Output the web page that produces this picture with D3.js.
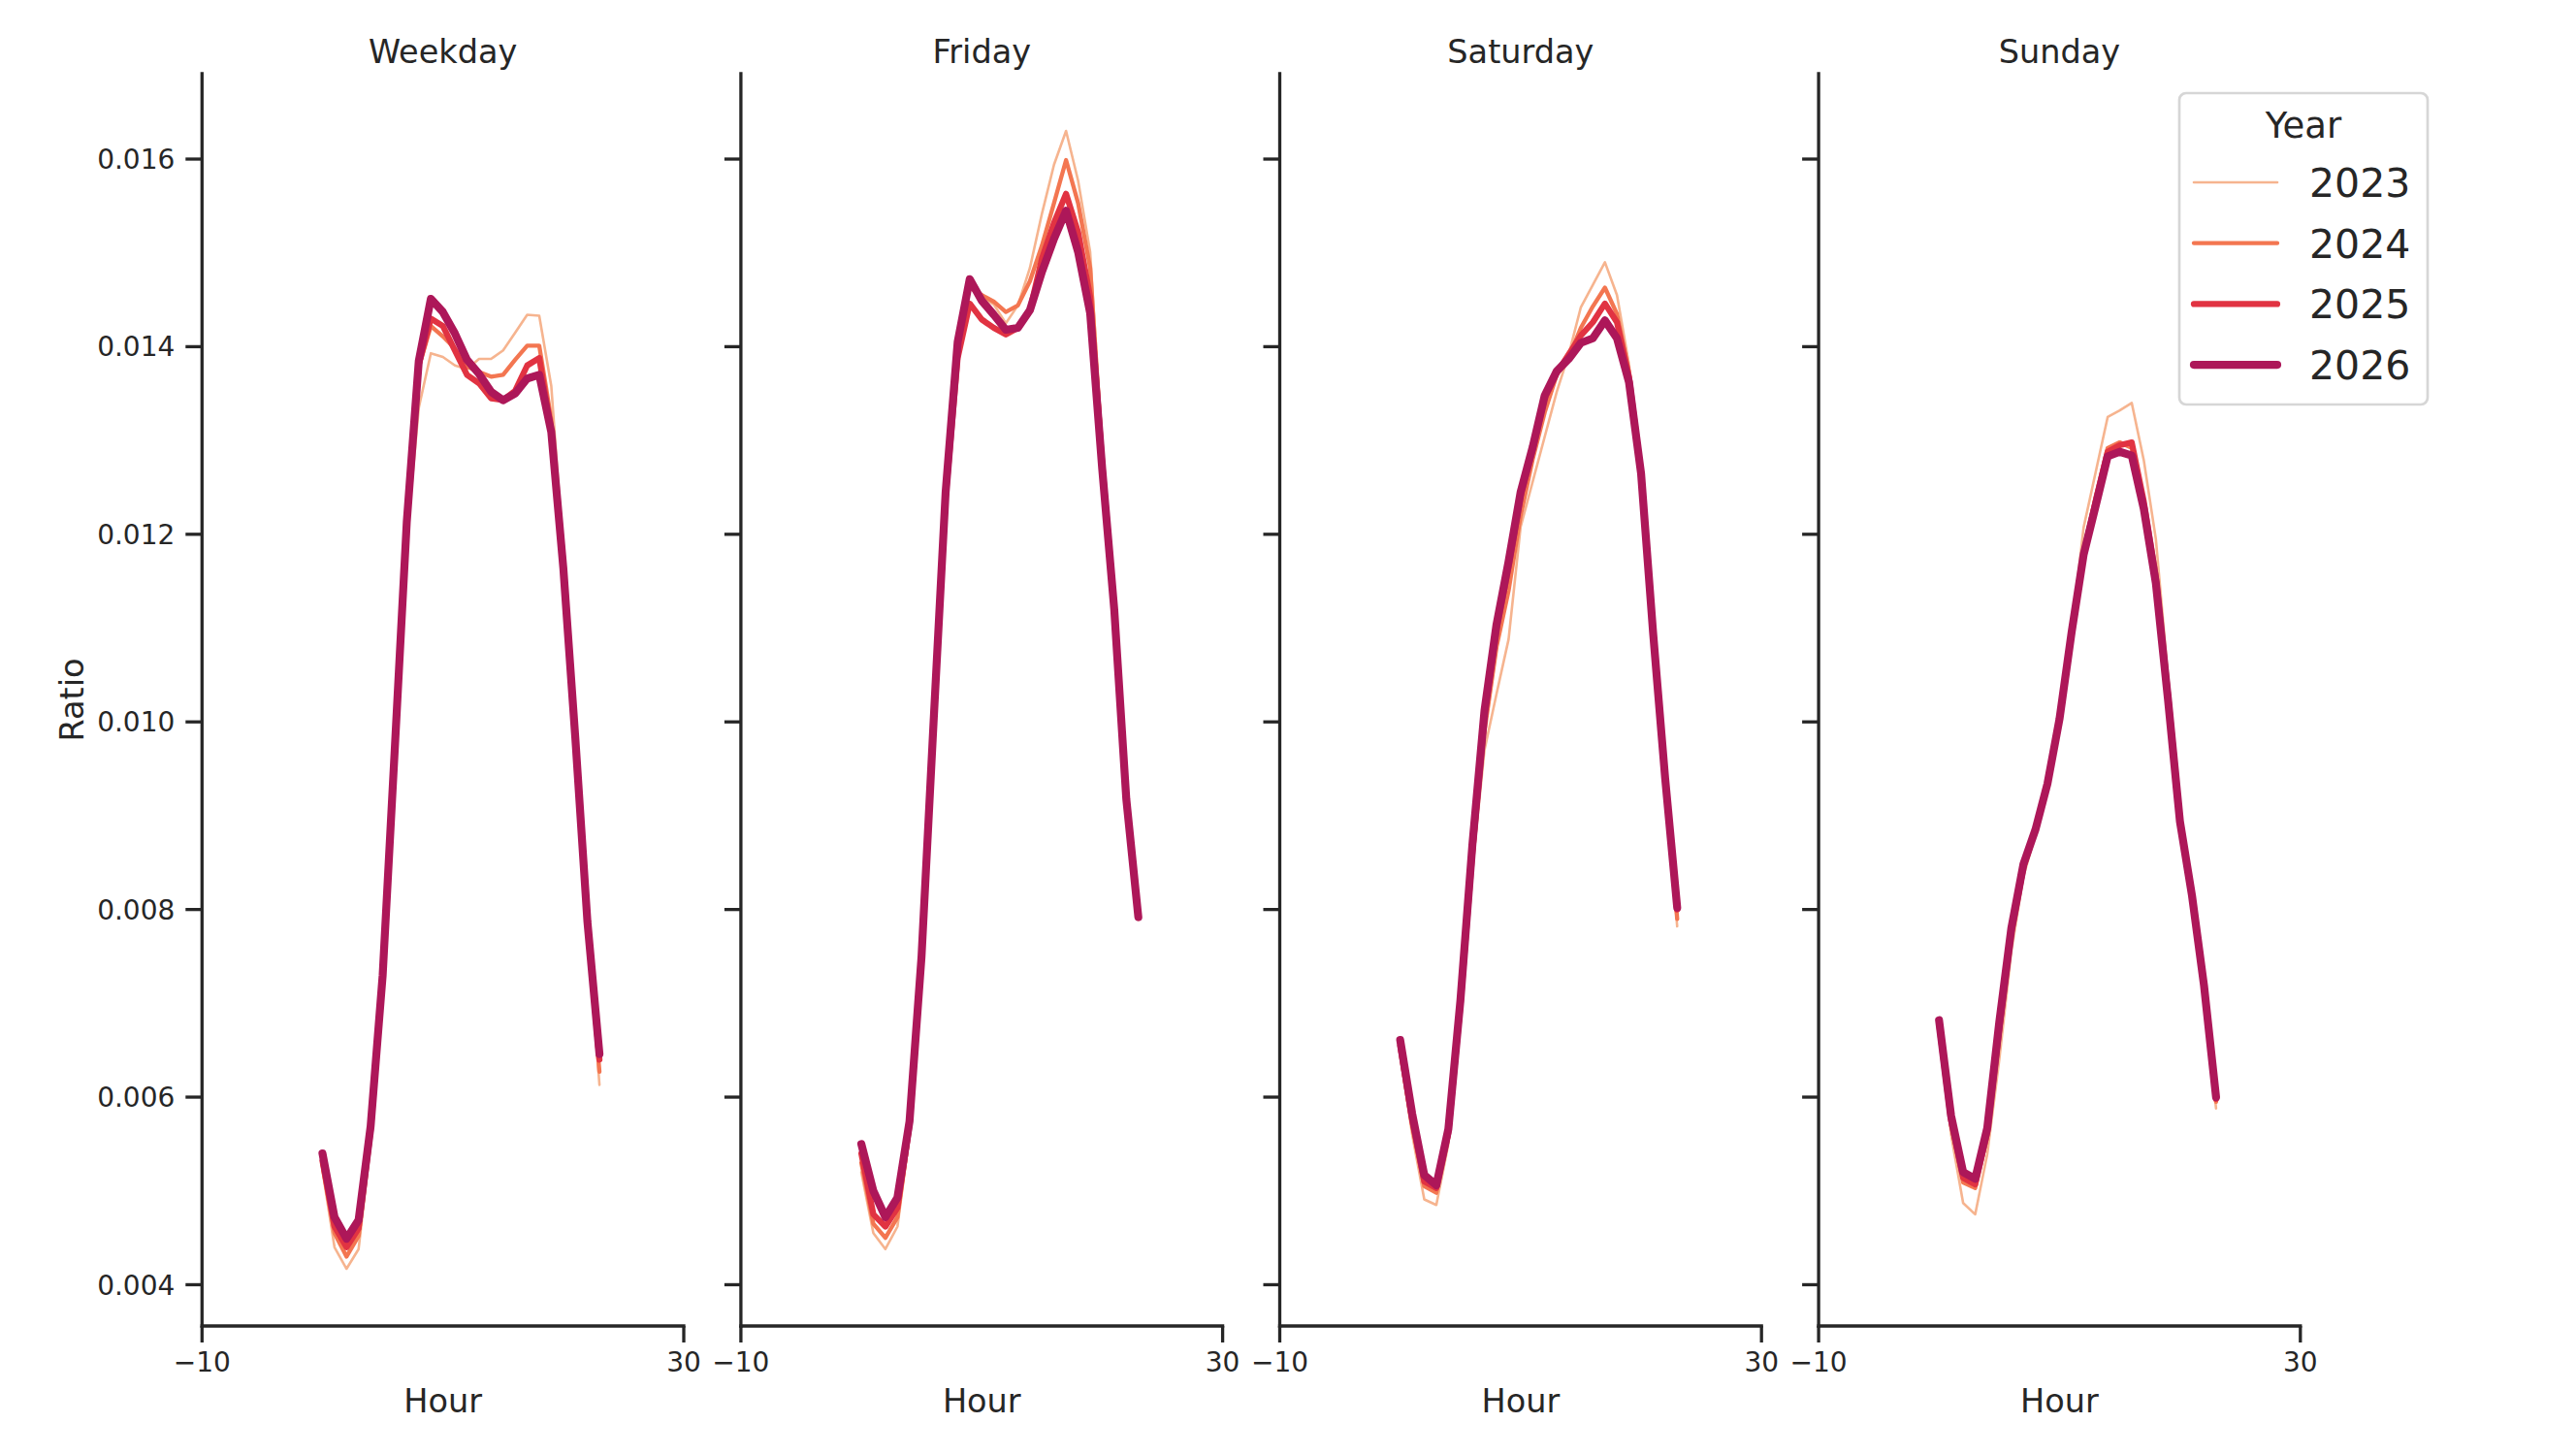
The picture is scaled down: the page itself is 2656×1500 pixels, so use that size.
<!DOCTYPE html>
<html>
<head>
<meta charset="utf-8">
<script src="https://cdn.jsdelivr.net/npm/d3@7"></script>
<style>
  body { margin: 0; background: #fff; }
  text { font-family: "DejaVu Sans", sans-serif; fill: #262626; }
</style>
</head>
<body>
<svg id="chart"></svg>
<script>
// hourly ratio per day type, one array per year (hours 0..23)
const hours = d3.range(0, 24);
const years = ["2023", "2024", "2025", "2026"];
const dayTypes = ["Weekday", "Friday", "Saturday", "Sunday"];
const yTicks = [0.004, 0.006, 0.008, 0.01, 0.012, 0.014, 0.016];
const xTicks = [-10, 30];

const weekday2023 = [0.00522, 0.00440, 0.00417, 0.00438, 0.00550, 0.00720, 0.00955, 0.01195, 0.01335, 0.01393, 0.01389, 0.01380, 0.01376, 0.01387, 0.01387, 0.01396, 0.01415, 0.01434, 0.01433, 0.01358, 0.01180, 0.00988, 0.00785, 0.00613];
const weekday2024 = [0.00528, 0.00455, 0.00430, 0.00452, 0.00560, 0.00725, 0.00962, 0.01205, 0.01378, 0.01422, 0.01411, 0.01398, 0.01379, 0.01373, 0.01368, 0.01370, 0.01386, 0.01401, 0.01401, 0.01322, 0.01172, 0.00985, 0.00785, 0.00627];
const weekday2025 = [0.00532, 0.00462, 0.00440, 0.00460, 0.00565, 0.00728, 0.00967, 0.01212, 0.01381, 0.01430, 0.01422, 0.01396, 0.01370, 0.01361, 0.01345, 0.01343, 0.01353, 0.01380, 0.01388, 0.01310, 0.01168, 0.00984, 0.00788, 0.00640];
const weekday2026 = [0.00540, 0.00472, 0.00449, 0.00469, 0.00569, 0.00730, 0.00970, 0.01213, 0.01385, 0.01451, 0.01437, 0.01414, 0.01386, 0.01371, 0.01352, 0.01343, 0.01350, 0.01366, 0.01370, 0.01309, 0.01164, 0.00982, 0.00787, 0.00646];

const friday2023 = [0.00520, 0.00455, 0.00438, 0.00462, 0.00560, 0.00740, 0.00990, 0.01235, 0.01398, 0.01462, 0.01453, 0.01445, 0.01425, 0.01444, 0.01484, 0.01542, 0.01594, 0.01630, 0.01577, 0.01501, 0.01295, 0.01128, 0.00920, 0.00790];
const friday2024 = [0.00530, 0.00465, 0.00450, 0.00472, 0.00565, 0.00745, 0.00995, 0.01240, 0.01400, 0.01465, 0.01455, 0.01448, 0.01437, 0.01444, 0.01470, 0.01508, 0.01553, 0.01599, 0.01553, 0.01484, 0.01285, 0.01125, 0.00918, 0.00790];
const friday2025 = [0.00540, 0.00475, 0.00462, 0.00482, 0.00570, 0.00748, 0.00998, 0.01240, 0.01388, 0.01446, 0.01429, 0.01420, 0.01413, 0.01420, 0.01439, 0.01494, 0.01532, 0.01563, 0.01522, 0.01453, 0.01275, 0.01122, 0.00918, 0.00792];
const friday2026 = [0.00550, 0.00500, 0.00472, 0.00493, 0.00574, 0.00750, 0.01000, 0.01245, 0.01405, 0.01472, 0.01449, 0.01434, 0.01418, 0.01420, 0.01439, 0.01480, 0.01515, 0.01545, 0.01501, 0.01436, 0.01270, 0.01120, 0.00918, 0.00792];

const saturday2023 = [0.00645, 0.00560, 0.00491, 0.00485, 0.00550, 0.00680, 0.00845, 0.00970, 0.01030, 0.01088, 0.01208, 0.01256, 0.01304, 0.01352, 0.01392, 0.01442, 0.01466, 0.01490, 0.01455, 0.01381, 0.01275, 0.01100, 0.00940, 0.00782];
const saturday2024 = [0.00650, 0.00570, 0.00505, 0.00498, 0.00558, 0.00690, 0.00855, 0.00990, 0.01080, 0.01140, 0.01220, 0.01280, 0.01330, 0.01370, 0.01389, 0.01420, 0.01443, 0.01463, 0.01435, 0.01372, 0.01268, 0.01097, 0.00940, 0.00790];
const saturday2025 = [0.00655, 0.00575, 0.00510, 0.00503, 0.00562, 0.00698, 0.00862, 0.01005, 0.01098, 0.01165, 0.01240, 0.01290, 0.01345, 0.01372, 0.01392, 0.01412, 0.01426, 0.01446, 0.01426, 0.01368, 0.01265, 0.01095, 0.00940, 0.00800];
const saturday2026 = [0.00661, 0.00582, 0.00517, 0.00506, 0.00566, 0.00703, 0.00870, 0.01012, 0.01104, 0.01171, 0.01245, 0.01293, 0.01348, 0.01374, 0.01387, 0.01404, 0.01409, 0.01428, 0.01409, 0.01362, 0.01265, 0.01095, 0.00940, 0.00802];

const sunday2023 = [0.00670, 0.00560, 0.00487, 0.00475, 0.00539, 0.00640, 0.00755, 0.00835, 0.00880, 0.00930, 0.01000, 0.01095, 0.01207, 0.01266, 0.01325, 0.01332, 0.01340, 0.01279, 0.01195, 0.01050, 0.00905, 0.00818, 0.00715, 0.00588];
const sunday2024 = [0.00675, 0.00570, 0.00509, 0.00503, 0.00558, 0.00665, 0.00770, 0.00842, 0.00883, 0.00932, 0.01002, 0.01095, 0.01182, 0.01240, 0.01292, 0.01298, 0.01292, 0.01232, 0.01152, 0.01030, 0.00896, 0.00815, 0.00716, 0.00595];
const sunday2025 = [0.00678, 0.00575, 0.00514, 0.00507, 0.00562, 0.00672, 0.00775, 0.00845, 0.00885, 0.00934, 0.01003, 0.01095, 0.01180, 0.01235, 0.01288, 0.01295, 0.01298, 0.01235, 0.01155, 0.01030, 0.00896, 0.00815, 0.00718, 0.00598];
const sunday2026 = [0.00682, 0.00580, 0.00520, 0.00513, 0.00567, 0.00680, 0.00780, 0.00848, 0.00885, 0.00934, 0.01003, 0.01095, 0.01178, 0.01230, 0.01283, 0.01288, 0.01284, 0.01227, 0.01148, 0.01025, 0.00894, 0.00815, 0.00719, 0.00600];

const seriesByDay = [
  [weekday2023, weekday2024, weekday2025, weekday2026],
  [friday2023, friday2024, friday2025, friday2026],
  [saturday2023, saturday2024, saturday2025, saturday2026],
  [sunday2023, sunday2024, sunday2025, sunday2026],
];

const COLORS = ["#f6b48f", "#f37651", "#e13342", "#ad1759"];
const WIDTHS = [2.6, 4.3, 6.2, 8.2];

const WIDTH = 2656;
const HEIGHT = 1500;
const PANEL_X0 = 208.3;
const PANEL_STEP = 555.6;
const PANEL_W = 496.7;
const TOP = 76;
const BOTTOM = 1367;
const TICK = 17;
const INK = "#262626";

var svg = d3
  .select("#chart")
  .attr("width", WIDTH)
  .attr("height", HEIGHT);

svg.append("rect").attr("width", WIDTH).attr("height", HEIGHT).attr("fill", "#fff");

var yScale = d3.scaleLinear().domain([0.00356, 0.01691]).range([BOTTOM, TOP]);

/**
* Draws one facet: spines, ticks, title and the four year lines.
*
* @param {*} i Index of the facet.
*/
function drawPanel(i) {
  const x0 = PANEL_X0 + i * PANEL_STEP;
  var xScale = d3.scaleLinear().domain([-10, 30]).range([x0, x0 + PANEL_W]);
  var g = svg.append("g").attr("class", "panel");

  // lines first, spines on top like matplotlib
  var line = d3
    .line()
    .x((d, h) => xScale(hours[h]))
    .y((d) => yScale(d));

  g.append("g")
    .selectAll("path")
    .data(seriesByDay[i])
    .enter()
    .append("path")
    .attr("d", (d) => line(d))
    .attr("fill", "none")
    .attr("stroke", (d, k) => COLORS[k])
    .attr("stroke-width", (d, k) => WIDTHS[k])
    .attr("stroke-linejoin", "round")
    .attr("stroke-linecap", "round");

  // spines
  g.append("line")
    .attr("x1", x0).attr("x2", x0)
    .attr("y1", TOP).attr("y2", BOTTOM)
    .attr("stroke", INK).attr("stroke-width", 3.3).attr("stroke-linecap", "square");
  g.append("line")
    .attr("x1", x0).attr("x2", x0 + PANEL_W)
    .attr("y1", BOTTOM).attr("y2", BOTTOM)
    .attr("stroke", INK).attr("stroke-width", 3.3).attr("stroke-linecap", "square");

  // y ticks
  g.append("g")
    .selectAll("line")
    .data(yTicks)
    .enter()
    .append("line")
    .attr("x1", x0 - TICK).attr("x2", x0)
    .attr("y1", (d) => yScale(d)).attr("y2", (d) => yScale(d))
    .attr("stroke", INK).attr("stroke-width", 3.3);

  if (i == 0) {
    g.append("g")
      .selectAll("text")
      .data(yTicks)
      .enter()
      .append("text")
      .attr("x", x0 - TICK - 11)
      .attr("y", (d) => yScale(d))
      .attr("dy", "0.36em")
      .attr("text-anchor", "end")
      .style("font-size", "28px")
      .text((d) => d3.format(".3f")(d));

    svg.append("text")
      .attr("transform", "translate(86," + (TOP + BOTTOM) / 2 + ") rotate(-90)")
      .attr("text-anchor", "middle")
      .style("font-size", "33.5px")
      .text("Ratio");
  }

  // x ticks
  g.append("g")
    .selectAll("line")
    .data(xTicks)
    .enter()
    .append("line")
    .attr("x1", (d) => xScale(d)).attr("x2", (d) => xScale(d))
    .attr("y1", BOTTOM).attr("y2", BOTTOM + TICK)
    .attr("stroke", INK).attr("stroke-width", 3.3);

  g.append("g")
    .selectAll("text")
    .data(xTicks)
    .enter()
    .append("text")
    .attr("x", (d) => xScale(d))
    .attr("y", 1414)
    .attr("text-anchor", "middle")
    .style("font-size", "28px")
    .text((d) => d3.format("d")(d).replace("-", "\u2212"));

  g.append("text")
    .attr("x", x0 + PANEL_W / 2)
    .attr("y", 1456)
    .attr("text-anchor", "middle")
    .style("font-size", "33.5px")
    .text("Hour");

  g.append("text")
    .attr("x", x0 + PANEL_W / 2)
    .attr("y", 65)
    .attr("text-anchor", "middle")
    .style("font-size", "33.5px")
    .text(dayTypes[i]);
}

/**
* Draws the Year legend in the top right corner.
*/
function drawLegend() {
  var lg = svg.append("g").attr("class", "legend");
  lg.append("rect")
    .attr("x", 2247).attr("y", 96)
    .attr("width", 256).attr("height", 321)
    .attr("rx", 7)
    .attr("fill", "#fff")
    .attr("stroke", "#d6d6d6")
    .attr("stroke-width", 2.7);

  lg.append("text")
    .attr("x", 2375).attr("y", 142)
    .attr("text-anchor", "middle")
    .style("font-size", "37px")
    .text("Year");

  var rows = lg.selectAll("g.row")
    .data(years)
    .enter()
    .append("g")
    .attr("class", "row")
    .attr("transform", (d, k) => "translate(0," + (188 + k * 62.7) + ")");

  rows.append("line")
    .attr("x1", 2262).attr("x2", 2348)
    .attr("stroke", (d, k) => COLORS[k])
    .attr("stroke-width", (d, k) => WIDTHS[k])
    .attr("stroke-linecap", "round");

  rows.append("text")
    .attr("x", 2381)
    .attr("y", 15)
    .style("font-size", "41px")
    .text((d) => d);
}

dayTypes.forEach((d, i) => drawPanel(i));
drawLegend();
</script>
</body>
</html>
